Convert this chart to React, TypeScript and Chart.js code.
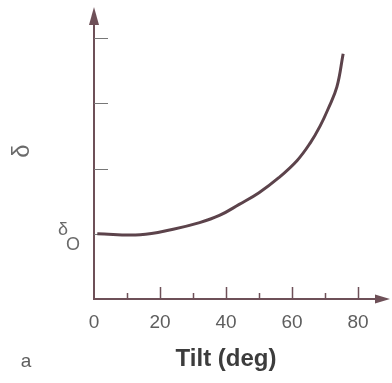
import React, { useEffect, useRef } from "react";
import { Chart, registerables } from "chart.js";

Chart.register(...registerables);

const tiltDeg = [1, 14, 24, 32, 38, 44, 50, 56, 61.5, 65.5, 68.5, 71, 73.6, 75.5];
const deltaValues = [1.0, 0.985, 1.07, 1.17, 1.28, 1.45, 1.63, 1.86, 2.12, 2.39, 2.65, 2.92, 3.25, 3.76];
const xTickLabels = [0, 20, 40, 60, 80];
const xMinorTicks = [10, 30, 50, 70];
const yTicks = [1, 2, 3, 4];

const AXIS = "#6e5058";
const CURVE = "#5c434b";
const TEXT = "#5e5e5e";
const FONT = "'Liberation Sans', Arial, Helvetica, sans-serif";

const decorPlugin = {
  id: "decor",
  beforeDatasetsDraw(chart: any) {
    const { ctx } = chart;
    const xs = chart.scales.x;
    const ys = chart.scales.y;
    const x0 = xs.getPixelForValue(0);
    const y0 = ys.getPixelForValue(0);
    ctx.save();
    ctx.strokeStyle = AXIS;
    ctx.fillStyle = AXIS;
    // axes
    ctx.lineWidth = 2;
    ctx.beginPath();
    ctx.moveTo(x0, y0);
    ctx.lineTo(x0, 20);
    ctx.moveTo(x0 - 1, y0);
    ctx.lineTo(378, y0);
    ctx.stroke();
    // arrows
    ctx.beginPath();
    ctx.moveTo(x0, 7);
    ctx.lineTo(x0 - 5, 25);
    ctx.lineTo(x0 + 5, 25);
    ctx.closePath();
    ctx.fill();
    ctx.beginPath();
    ctx.moveTo(390, y0);
    ctx.lineTo(375, y0 - 4.5);
    ctx.lineTo(375, y0 + 4.5);
    ctx.closePath();
    ctx.fill();
    // x ticks
    ctx.lineWidth = 1.5;
    ctx.beginPath();
    xTickLabels.slice(1).forEach((v) => {
      const px = Math.round(xs.getPixelForValue(v)) + 0.5;
      ctx.moveTo(px, y0);
      ctx.lineTo(px, y0 - 12);
    });
    xMinorTicks.forEach((v) => {
      const px = Math.round(xs.getPixelForValue(v)) + 0.5;
      ctx.moveTo(px, y0);
      ctx.lineTo(px, y0 - 6);
    });
    ctx.stroke();
    // y ticks
    ctx.strokeStyle = "#777";
    ctx.lineWidth = 1;
    ctx.beginPath();
    yTicks.forEach((v) => {
      const py = Math.round(ys.getPixelForValue(v)) + 0.5;
      ctx.moveTo(x0, py);
      ctx.lineTo(x0 + 14, py);
    });
    ctx.stroke();

    // texts
    ctx.fillStyle = "#6a6a6a";
    ctx.textAlign = "center";
    ctx.textBaseline = "middle";
    ctx.save();
    ctx.translate(22, 151);
    ctx.rotate(-Math.PI / 2);
    ctx.font = `24px ${FONT}`;
    ctx.fillText("\u03b4", 0, 0);
    ctx.restore();

    ctx.font = `18px ${FONT}`;
    ctx.fillText("\u03b4", 63, 230);
    ctx.font = `18px ${FONT}`;
    ctx.fillText("O", 73, 245);

    ctx.fillStyle = TEXT;
    ctx.font = `19px ${FONT}`;
    ctx.textBaseline = "alphabetic";
    ctx.fillText("a", 26, 367);
    ctx.restore();
  },
};

export default function App() {
  const ref = useRef<HTMLCanvasElement | null>(null);
  useEffect(() => {
    if (!ref.current) return;
    const chart = new Chart(ref.current, {
      type: "line",
      data: {
        datasets: [
          {
            data: tiltDeg.map((t, i) => ({ x: t, y: deltaValues[i] })),
            borderColor: CURVE,
            borderWidth: 3,
            pointRadius: 0,
            tension: 0.4,
            fill: false,
          },
        ],
      },
      options: {
        animation: false,
        responsive: false,
        layout: { padding: { left: 94, top: 38, right: 34, bottom: 0 } },
        plugins: { legend: { display: false }, tooltip: { enabled: false } },
        scales: {
          x: {
            type: "linear",
            min: 0,
            max: 80,
            grid: { display: false, drawTicks: false },
            border: { display: false },
            afterBuildTicks: (s: any) => {
              s.ticks = xTickLabels.map((v) => ({ value: v }));
            },
            afterFit: (s: any) => {
              s.height = 84;
            },
            ticks: {
              color: TEXT,
              font: { family: FONT, size: 19 },
              padding: 12,
              maxRotation: 0,
              autoSkip: false,
            },
            title: {
              display: true,
              text: "Tilt (deg)",
              color: "#3c3c3c",
              font: { family: FONT, size: 24, weight: "bold" },
              padding: { top: 0, bottom: 9 },
            },
          },
          y: {
            type: "linear",
            min: 0,
            max: 4,
            display: false,
          },
        },
      },
      plugins: [decorPlugin],
    } as any);
    return () => chart.destroy();
  }, []);
  return (
    <div style={{ position: "absolute", left: 0, top: 0, width: 392, height: 383 }}>
      <canvas ref={ref} width={392} height={383} style={{ display: "block" }} />
    </div>
  );
}
